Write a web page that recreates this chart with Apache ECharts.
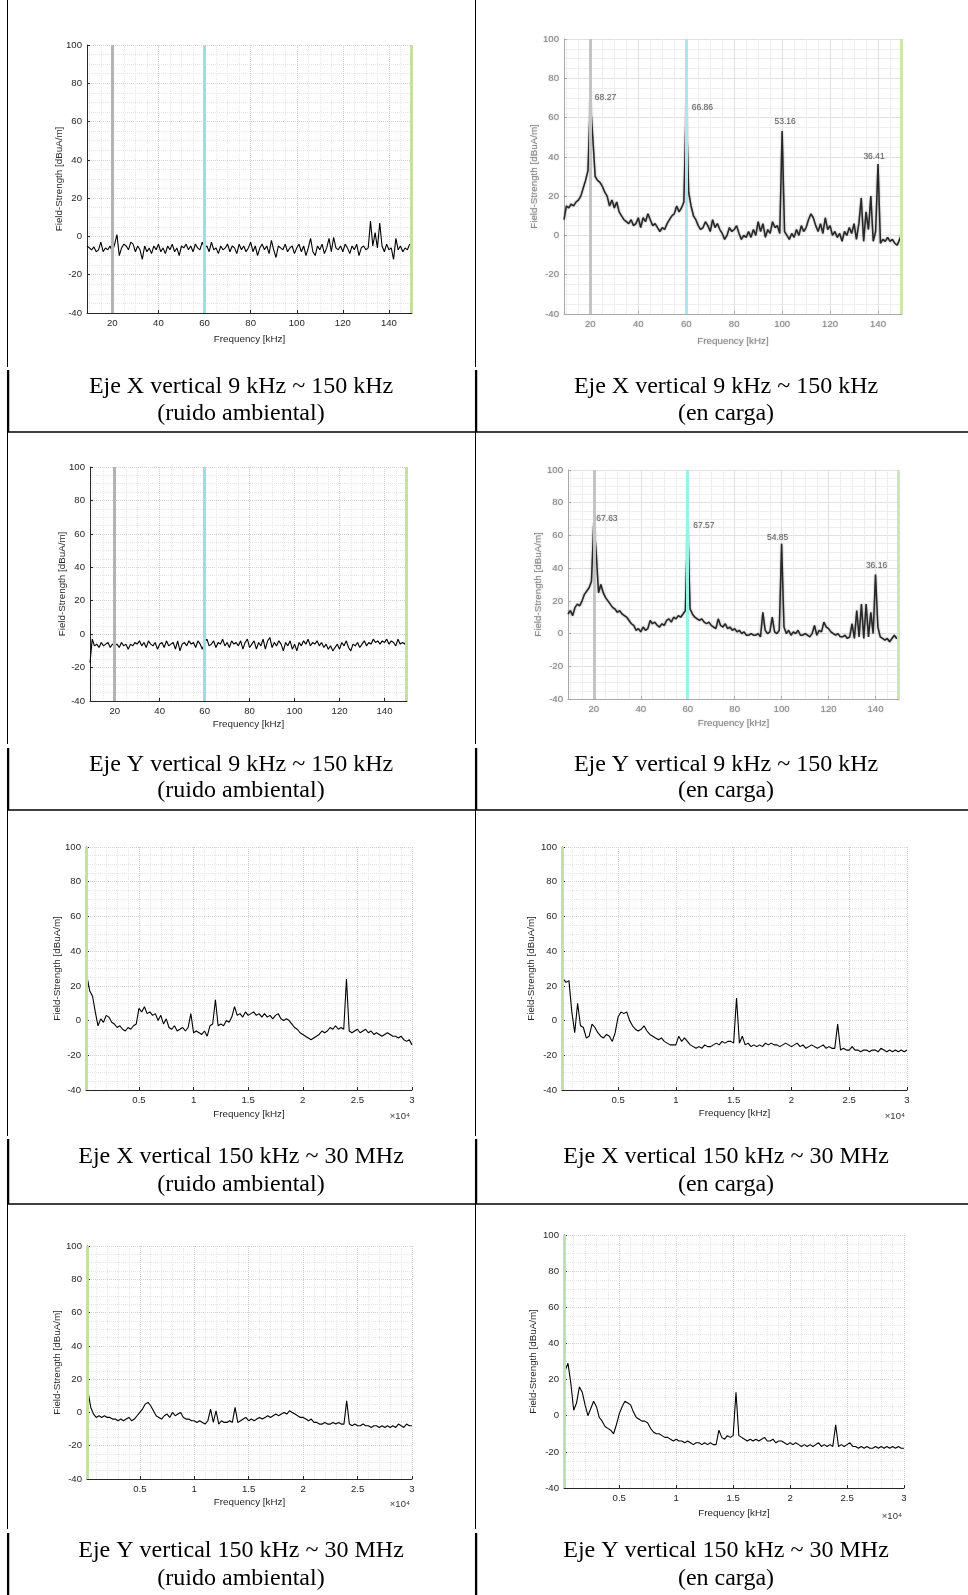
<!DOCTYPE html>
<html>
<head>
<meta charset="utf-8">
<title>Field-Strength</title>
<script src="https://cdn.jsdelivr.net/npm/echarts@6/dist/echarts.min.js"></script>
<style>
  html, body { margin: 0; padding: 0; background: #fff; }
  #main { width: 968px; height: 1595px; }
</style>
</head>
<body>
<div id="main"></div>
<script>
// frequency bins: 9..150 kHz every 1 kHz, 150 kHz..30 MHz every 250 kHz
var LOW_START = 9, LOW_STEP = 1;
var HIGH_START = 250, HIGH_STEP = 250;

var Y_TICKS = [-40, -20, 0, 20, 40, 60, 80, 100];
var LOW_TICKS = [20, 40, 60, 80, 100, 120, 140];
var HIGH_TICKS = [5000, 10000, 15000, 20000, 25000, 30000];
var LOW_MARKERS = [20, 60, 149.5];  // gray, cyan, green lines
var HIGH_MARKERS = [150];           // green line at band start
var PEAKS_X = [20, 60, 100, 140];   // labelled peaks (en carga)

// Eje X, 9-150 kHz, ruido ambiental
var xAmbLow = [
  -5, -6, -7, -5.5, -8, -7, -3, -8, -6, -7,
  -5, -8, -4, 1, -10, -6, -4, -5, -7, -3,
  -4, -8, -5, -7, -12, -5, -8, -6, -9, -5,
  -7, -4, -8, -6, -9, -5, -7, -4, -8, -6,
  -10, -5, -6, -4, -7, -5, -8, -4, -6, -7,
  -3, -6, -5, -8, -3, -7, -6, -9, -5, -7,
  -6, -4, -8, -5, -6, -9, -4, -7, -5, -8,
  -6, -3, -8, -5, -10, -6, -4, -7, -5, -9,
  -2, -7, -11, -5, -6, -7, -4, -8, -6, -5,
  -9, -6, -4, -8, -5, -10, -6, -1, -8, -10,
  -5, -7, -4, -9, -6, -1, -8, -0.5, -6, -7,
  -5, -8, -4, -6, -9, -5, -7, -4, -10, -6,
  -5, -7, -6, 8, -5, 2, -6, 7, -5, -8,
  -4, -7, -6, -12, -1, -7, -5, -8, -6, -7,
  -4, -5
];

// Eje X, 9-150 kHz, en carga
var xLoadLow = [
  8, 15, 14, 16, 15, 17, 18, 20, 24, 28,
  33, 68.27, 50, 30, 28, 27, 25, 22, 20, 15,
  18, 14, 17, 12, 10, 8, 7, 6, 8, 5,
  6, 9, 4, 9, 7, 11, 8, 5, 6, 4,
  2, 4, 3, 6, 8, 10, 11, 15, 12, 14,
  17, 66.86, 22, 15, 10, 8, 5, 3, 4, 7,
  5, 2, 8, 4, 6, 3, 1, -2, 0, 4,
  2, 3, 5, 1, -2, 0, -1, 2, -1, 3,
  0, 7, 2, 6, -1, 3, 1, 7, 4, 5,
  1, 53.16, 2, 0, -2, 1, -1, 3, 0, 5,
  2, 4, 8, 11, 9, 5, 2, 6, 1, 9,
  3, 5, 0, 2, -1, 1, -3, 2, 0, 4,
  1, 6, -2, 6, 19, -3, 12, 3, 20, -3,
  2, 36.41, -4, -2, -3, -1, -3, -2, -4, -5,
  -2, 1
];

// Eje Y, 9-150 kHz, ruido ambiental
var yAmbLow = [
  -17, -3, -7, -6, -8, -5, -7, -6, -5, -8,
  -6, -7, -6, -8, -5, -7, -6, -9, -6, -7,
  -5, -6, -4, -7, -5, -8, -4, -6, -7, -5,
  -9, -6, -5, -8, -4, -7, -6, -5, -9, -4,
  -10, -6, -5, -7, -4, -6, -5, -8, -4, -6,
  -9, -5, -3, -7, -6, -4, -8, -5, -6, -3,
  -7, -5, -8, -4, -6, -5, -7, -4, -9, -5,
  -3, -8, -6, -4, -9, -5, -7, -3, -9, -4,
  -2, -8, -5, -7, -4, -6, -10, -5, -7, -4,
  -9, -6, -10, -5, -7, -4, -6, -3, -7, -5,
  -6, -4, -7, -5, -8, -6, -9, -7, -10, -8,
  -6, -9, -5, -7, -4, -8, -10, -6, -7, -5,
  -8, -6, -4, -7, -5, -6, -3, -5, -4, -6,
  -4, -5, -3, -6, -4, -5, -7, -3, -6, -5,
  -6, -3
];

// Eje Y, 9-150 kHz, en carga
var yLoadLow = [
  12, 14, 11, 16, 18, 17, 20, 24, 26, 28,
  32, 67.63, 50, 25, 30, 25, 22, 20, 18, 16,
  15, 13, 14, 12, 11, 10, 8, 6, 5, 2,
  3, 1, 4, 2, 3, 8, 6, 7, 5, 4,
  6, 5, 8, 9, 7, 10, 9, 11, 10, 12,
  14, 67.57, 15, 12, 10, 9, 8, 9, 7, 6,
  7, 5, 4, 3, 9, 5, 4, 6, 3, 4,
  2, 3, 1, 2, 0, 1, -1, -1, 0, -1,
  -1, 0, -2, 13, 2, 0, 1, 10, 1, 0,
  2, 54.85, 4, 0, 2, -1, 1, 0, 2, -1,
  -1, 0, -1, -2, 0, 5, -1, 2, 1, 7,
  4, 3, 1, 0, -1, 0, -2, -2, -1, -3,
  -2, 6, -3, 14, -2, 18, -3, 18, -2, 13,
  0, 36.16, 4, -2, -3, -4, -3, -5, -3, -1,
  -3, -2
];

// Eje X, 150 kHz-30 MHz, ruido ambiental
var xAmbHigh = [
  25, 17, 14, 5, -3, 1, -1, 3, 2, -1,
  -2, -4, -3, -5, -6, -4, -5, -3, -2, 7,
  5, 8, 4, 5, 3, 4, 0, 3, -2, 1,
  -4, -5, -3, -6, -5, -4, -6, -4, 4, -7,
  -6, -7, -8, -6, -9, -3, -2, 12, -3, -2,
  -3, 0, -1, 2, 8, 3, 4, 2, 5, 3,
  4, 5, 3, 4, 2, 4, 2, 3, 1, 3,
  4, 1, 0, 1, 0, -2, -4, -5, -7, -8,
  -9, -10, -11, -10, -9, -8, -6, -7, -6, -4,
  -5, -3, -5, -4, -5, 24, -6, -7, -6, -5,
  -7, -6, -5, -7, -6, -8, -7, -8, -9, -8,
  -7, -8, -9, -9, -10, -9, -11, -12, -11, -14
];

// Eje X, 150 kHz-30 MHz, en carga
var xLoadHigh = [
  24, 22, 23, 5, -7, 10, -3, -4, -10, -9,
  -2, -4, -7, -9, -10, -8, -9, -12, -7, 2,
  5, 4, 5, 0, -3, -5, -6, -5, -3, -6,
  -8, -9, -10, -11, -10, -12, -13, -14, -14, -14,
  -9, -12, -10, -12, -14, -15, -16, -15, -16, -14,
  -15, -15, -14, -13, -14, -12, -13, -12, -12, -13,
  13, -13, -9, -14, -13, -15, -14, -15, -14, -15,
  -13, -14, -13, -14, -14, -15, -14, -13, -14, -15,
  -14, -13, -15, -14, -16, -15, -14, -15, -16, -15,
  -14, -16, -15, -16, -16, -2, -17, -16, -17, -17,
  -15, -17, -17, -18, -17, -17, -18, -17, -17, -18,
  -16, -17, -18, -17, -18, -17, -18, -17, -18, -17
];

// Eje Y, 150 kHz-30 MHz, ruido ambiental
var yAmbHigh = [
  12, 3, -1, -3, -2, -3, -2, -3, -3, -4,
  -4, -5, -4, -5, -4, -3, -5, -4, -2, 0,
  2, 5, 6, 4, 1, -2, -3, -4, -2, -1,
  -3, 0, -2, -1, 0, -3, -4, -4, -5, -5,
  -6, -5, -6, -7, -5, 2, -6, 1, -7, -5,
  -6, -6, -5, -6, 3, -6, -5, -4, -3, -5,
  -4, -5, -4, -3, -4, -3, -2, -3, -2, -1,
  -2, -1, 0, -1, 1, 0, -1, -2, -3, -3,
  -4, -5, -4, -6, -6, -7, -7, -6, -7, -7,
  -6, -7, -6, -7, -7, 7, -7, -8, -7, -8,
  -8, -7, -8, -8, -9, -8, -8, -9, -8, -9,
  -8, -9, -8, -9, -7, -8, -9, -7, -8, -8
];

// Eje Y, 150 kHz-30 MHz, en carga
var yLoadHigh = [
  25, 29, 18, 3, 7, 16, 13, 6, 0, 4,
  8, 5, -1, -3, -6, -7, -8, -10, -5, 1,
  5, 8, 7, 6, 2, -1, -2, -3, -3, -4,
  -7, -9, -10, -10, -11, -12, -12, -13, -14, -13,
  -14, -14, -15, -14, -15, -16, -15, -15, -16, -15,
  -16, -15, -16, -16, -8, -12, -13, -11, -12, -11,
  13, -11, -12, -13, -14, -13, -14, -13, -14, -13,
  -12, -14, -14, -13, -15, -14, -14, -15, -16, -15,
  -16, -15, -16, -17, -16, -17, -16, -17, -16, -15,
  -17, -16, -17, -16, -17, -5, -17, -16, -17, -16,
  -15, -17, -17, -18, -17, -18, -17, -18, -18, -17,
  -18, -17, -18, -17, -18, -17, -18, -17, -18, -18
];

var CAPTIONS = [
  ['Eje X vertical 9 kHz ~ 150 kHz', '(ruido ambiental)'],
  ['Eje X vertical 9 kHz ~ 150 kHz', '(en carga)'],
  ['Eje Y vertical 9 kHz ~ 150 kHz', '(ruido ambiental)'],
  ['Eje Y vertical 9 kHz ~ 150 kHz', '(en carga)'],
  ['Eje X vertical 150 kHz ~ 30 MHz', '(ruido ambiental)'],
  ['Eje X vertical 150 kHz ~ 30 MHz', '(en carga)'],
  ['Eje Y vertical 150 kHz ~ 30 MHz', '(ruido ambiental)'],
  ['Eje Y vertical 150 kHz ~ 30 MHz', '(en carga)']
];

// ---- layout ----
var SANS = '"Liberation Sans", Arial, Helvetica, sans-serif';
var SERIF = '"Liberation Serif", "Times New Roman", Times, serif';

var panels = [
  { vals: xAmbLow,   band: 'low',  blur: false, box: [87, 45, 325, 268],   yGap: 23, xGap: 21 },
  { vals: xLoadLow,  band: 'low',  blur: true,  box: [564, 39, 338, 275],  yGap: 25, xGap: 22,
    peakLabels: [{pos: 'right', off: [0, -4]}, {pos: 'right', off: [1, 4]}, {pos: 'top', off: [3, 0]}, {pos: 'top', off: [-4, 2]}] },
  { vals: yAmbLow,   band: 'low',  blur: false, box: [90, 467, 317, 234],  yGap: 23, xGap: 18 },
  { vals: yLoadLow,  band: 'low',  blur: true,  box: [568, 470, 331, 229], yGap: 25, xGap: 19,
    peakLabels: [{pos: 'right', off: [-2, -4]}, {pos: 'right', off: [1, 3]}, {pos: 'top', off: [-4, 3]}, {pos: 'top', off: [1, 0]}] },
  { vals: xAmbHigh,  band: 'high', blur: false, box: [86, 847, 326, 243],  yGap: 24, xGap: 19, sciDy: 26 },
  { vals: xLoadHigh, band: 'high', blur: false, box: [562, 847, 345, 243], yGap: 26, xGap: 18, sciDy: 26 },
  { vals: yAmbHigh,  band: 'high', blur: false, box: [87, 1246, 325, 233], yGap: 25, xGap: 18, sciDy: 25 },
  { vals: yLoadHigh, band: 'high', blur: false, box: [564, 1235, 340, 253], yGap: 26, xGap: 20, sciDy: 28 }
];

var CAPTION_X = [241, 726];
var CAPTION_Y = [[387, 414], [765, 791], [1157, 1185], [1551, 1579]];

function pairs(vals, start, step) {
  return vals.map(function (v, i) { return [start + i * step, v]; });
}

var grids = [], xAxes = [], yAxes = [], series = [], graphics = [];

panels.forEach(function (p, i) {
  var low = p.band === 'low';
  var ink = p.blur ? '#8a8a8a' : '#262626';
  var axisInk = p.blur ? '#a9a9a9' : '#262626';
  var blurText = p.blur ? { textShadowColor: 'rgba(150,150,150,0.7)', textShadowBlur: 1.5 } : {};
  var major = p.blur ? { color: '#e0e0e0', type: 'solid', width: 1 } : { color: '#d2d2d2', type: 'dotted', width: 1 };
  var minor = p.blur ? { color: '#eeeeee', type: 'solid', width: 1 } : { color: '#e6e6e6', type: 'dotted', width: 1 };
  function txt(size) { return Object.assign({ fontSize: size, color: ink, fontFamily: SANS }, blurText); }
  var ticks = low ? LOW_TICKS : HIGH_TICKS;

  grids.push({ left: p.box[0], top: p.box[1], width: p.box[2], height: p.box[3], containLabel: false });

  xAxes.push({
    type: 'value', gridIndex: i,
    min: low ? 9 : 150, max: low ? 150 : 30000, splitNumber: low ? 7 : 6,
    name: 'Frequency [kHz]', nameLocation: 'middle', nameGap: p.xGap, nameMoveOverlap: false,
    nameTextStyle: txt(9.8),
    axisLine: { show: true, onZero: false, lineStyle: { color: axisInk, width: 1 } },
    axisTick: { show: true, inside: true, length: 3, customValues: ticks, lineStyle: { color: axisInk } },
    axisLabel: Object.assign(txt(9.6), {
      margin: 5, customValues: ticks,
      formatter: function (v) {
        if (ticks.indexOf(v) < 0) return '';
        return low ? String(v) : String(v / 10000);
      }
    }),
    splitLine: { show: true, lineStyle: major },
    minorTick: { show: false, splitNumber: low ? 4 : 5 },
    minorSplitLine: { show: true, lineStyle: minor }
  });

  yAxes.push({
    type: 'value', gridIndex: i, min: -40, max: 100, interval: 20,
    name: 'Field-Strength [dBuA/m]', nameLocation: 'middle', nameGap: p.yGap, nameRotate: 90,
    nameMoveOverlap: false, nameTextStyle: txt(9.8),
    axisLine: { show: true, lineStyle: { color: axisInk, width: 1 } },
    axisTick: { show: true, inside: true, length: 3, lineStyle: { color: axisInk } },
    axisLabel: Object.assign(txt(9.6), { margin: 5, customValues: Y_TICKS }),
    splitLine: { show: true, lineStyle: major },
    minorTick: { show: false, splitNumber: 4 },
    minorSplitLine: { show: true, lineStyle: minor }
  });

  // band limit lines
  var marks = low ? LOW_MARKERS : HIGH_MARKERS;
  var markColors = low
    ? (p.blur ? ['#c4c4c4', '#a6ebeb', '#cde6b3'] : ['#b3b3b3', '#93e3e3', '#c3e0a6'])
    : ['#c3e0a6'];
  series.push({
    type: 'line', xAxisIndex: i, yAxisIndex: i, data: [], silent: true, z: 1, clip: false,
    animation: false,
    markLine: {
      silent: true, animation: false, symbol: ['none', 'none'], label: { show: false },
      data: marks.map(function (x, k) {
        return { xAxis: x, lineStyle: { color: markColors[k], width: 3, type: 'solid', opacity: 1 } };
      })
    }
  });

  var s = {
    type: 'line', xAxisIndex: i, yAxisIndex: i, z: 3, animation: false,
    showSymbol: false, symbol: 'none',
    data: pairs(p.vals, low ? LOW_START : HIGH_START, low ? LOW_STEP : HIGH_STEP),
    lineStyle: p.blur
      ? { color: '#262626', width: 1.5, shadowBlur: 2, shadowColor: 'rgba(0,0,0,0.45)' }
      : { color: '#000', width: 1.1 }
  };
  if (p.peakLabels) {
    s.markPoint = {
      silent: true, animation: false, symbol: 'circle', symbolSize: 1,
      itemStyle: { color: 'rgba(0,0,0,0)' },
      data: PEAKS_X.map(function (x, k) {
        var v = p.vals[(x - LOW_START) / LOW_STEP];
        var lab = p.peakLabels[k];
        return {
          coord: [x, v], name: v.toFixed(2),
          label: {
            show: true, position: lab.pos, offset: lab.off, distance: 4, formatter: '{b}',
            fontSize: 8.5, color: '#666', fontFamily: SANS,
            textShadowColor: 'rgba(140,140,140,0.6)', textShadowBlur: 1.2
          }
        };
      })
    };
  }
  series.push(s);

  if (!low) {
    graphics.push({
      type: 'text', silent: true,
      style: {
        text: '×10⁴', x: p.box[0] + p.box[2] - 2, y: p.box[1] + p.box[3] + p.sciDy,
        font: '9.5px ' + SANS, fill: '#333',
        textAlign: 'right', textVerticalAlign: 'middle', align: 'right', verticalAlign: 'middle'
      }
    });
  }

  var col = i % 2, row = Math.floor(i / 2);
  CAPTIONS[i].forEach(function (line, k) {
    graphics.push({
      type: 'text', silent: true,
      style: {
        text: line, x: CAPTION_X[col], y: CAPTION_Y[row][k],
        font: '24px ' + SERIF, fill: '#000',
        textAlign: 'center', textVerticalAlign: 'middle', align: 'center', verticalAlign: 'middle'
      }
    });
  });
});

// table rules
var H_RULES = [432, 810, 1204];
H_RULES.forEach(function (y) {
  graphics.push({ type: 'line', silent: true, shape: { x1: 7, y1: y, x2: 968, y2: y },
    style: { stroke: '#000', lineWidth: 1.6 } });
});
var ROWS = [[0, 367, 370, 432], [432, 744, 748, 810], [810, 1136, 1139, 1204], [1204, 1529, 1533, 1595]];
[7.5, 475.5].forEach(function (x) {
  ROWS.forEach(function (r) {
    graphics.push({ type: 'line', silent: true, shape: { x1: x, y1: r[0], x2: x, y2: r[1] },
      style: { stroke: '#000', lineWidth: 1 } });
    graphics.push({ type: 'line', silent: true, shape: { x1: x + 0.6, y1: r[2], x2: x + 0.6, y2: r[3] },
      style: { stroke: '#000', lineWidth: 2.3 } });
  });
});

var chart = echarts.init(document.getElementById('main'));
chart.setOption({
  animation: false,
  backgroundColor: '#fff',
  grid: grids,
  xAxis: xAxes,
  yAxis: yAxes,
  series: series,
  graphic: { elements: graphics }
});
</script>
</body>
</html>
